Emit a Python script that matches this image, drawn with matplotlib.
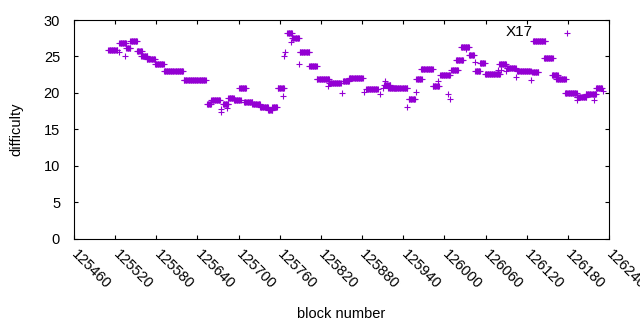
import numpy as np
import matplotlib
matplotlib.use("Agg")
import matplotlib.pyplot as plt
from matplotlib.transforms import ScaledTranslation

# runs of blocks with the same difficulty (first block, last block, difficulty)
seg_start = [125510, 125526, 125536, 125542, 125552, 125558, 125566, 125578, 125591, 125620,
             125654, 125660, 125677, 125685, 125693, 125701, 125708, 125720, 125731, 125743,
             125749, 125757, 125771, 125778, 125789, 125803, 125814, 125832, 125852, 125861,
             125886, 125912, 125918, 125928, 125948, 125959, 125966, 125983, 125994, 126010,
             126017, 126024, 126036, 126045, 126052, 126059, 126080, 126091, 126106, 126128,
             126129, 126145, 126157, 126163, 126176, 126193, 126206, 126221]
seg_end = [125523, 125536, 125542, 125552, 125559, 125567, 125578, 125591, 125619, 125652,
           125660, 125673, 125685, 125693, 125703, 125711, 125720, 125731, 125743, 125749,
           125756, 125766, 125778, 125788, 125803, 125814, 125832, 125849, 125861, 125881,
           125903, 125921, 125928, 125946, 125957, 125967, 125983, 125992, 126008, 126020,
           126027, 126036, 126043, 126052, 126059, 126081, 126090, 126104, 126126, 126137,
           126147, 126158, 126165, 126177, 126193, 126207, 126221, 126230]
seg_diff = [25.9, 26.8, 26.2, 27.1, 25.7, 25.0, 24.6, 24.0, 22.95, 21.8,
            18.5, 19.0, 18.4, 19.3, 19.0, 20.6, 18.7, 18.4, 18.0, 17.7,
            18.1, 20.7, 28.2, 27.5, 25.6, 23.7, 21.9, 21.3, 21.6, 22.1,
            20.5, 21.1, 20.6, 20.7, 19.2, 21.9, 23.3, 21.0, 22.4, 23.2,
            24.5, 26.3, 25.2, 23.0, 24.1, 22.6, 23.9, 23.45, 23.0, 22.8,
            27.1, 24.8, 22.4, 21.9, 20.0, 19.4, 19.8, 20.6]

# single blocks off the runs
out_block = [125525, 125535, 125674, 125675, 125683, 125765, 125766, 125768, 125777, 125788,
             125831, 125851, 125883, 125906, 125910, 125913, 125946, 125959, 125991, 126005,
             126008, 126031, 126044, 126078, 126083, 126090, 126104, 126127, 126179, 126194,
             126218, 126231]
out_diff = [25.6, 25.0, 17.8, 17.4, 17.9, 19.5, 25.0, 25.6, 27.0, 24.0,
            21.0, 20.0, 20.1, 19.8, 20.6, 21.6, 18.1, 20.1, 21.6, 19.9,
            19.2, 26.0, 24.2, 23.2, 23.2, 23.0, 22.2, 21.8, 28.2, 19.0,
            19.0, 20.2]

blocks = []
diffs = []
for s, e, d in zip(seg_start, seg_end, seg_diff):
    for b in range(s, e + 1):
        blocks.append(b)
        diffs.append(d)
blocks += out_block
diffs += out_diff

plt.rcParams['font.family'] = ['Liberation Sans', 'DejaVu Sans']

fig = plt.figure(figsize=(6.4, 3.3), dpi=100)
ax = fig.add_axes([74 / 640, 1 - 238.5 / 330, 535 / 640, 218.5 / 330])

ax.plot(blocks, diffs, linestyle='none', marker='+', color='#9400d3',
        markersize=5, markeredgewidth=0.8)

ax.set_xlim(125460, 126240)
ax.set_ylim(0, 30)
ax.set_xticks(np.arange(125460, 126241, 60))
ax.set_yticks(np.arange(0, 31, 5))
ax.tick_params(direction='in', length=3, width=0.8, top=True, right=True, labelsize=10.5)
ax.tick_params(axis='y', pad=10)
# gnuplot style: rotated labels start right at the tick
shift = ScaledTranslation(5 / 100, -4 / 100, fig.dpi_scale_trans)
for lab in ax.get_xticklabels():
    lab.set_rotation(-45)
    lab.set_ha('left')
    lab.set_va('top')
    lab.set_rotation_mode('anchor')
    lab.set_transform(lab.get_transform() + shift)
for sp in ax.spines.values():
    sp.set_linewidth(0.8)

ax.set_xlabel('block number', fontsize=10.5, labelpad=11)
ax.set_ylabel('difficulty', fontsize=10.5, labelpad=15)
ax.text(126109, 28.3, 'X17', fontsize=11, ha='center', va='center')

fig.savefig('out.png', dpi=100)
